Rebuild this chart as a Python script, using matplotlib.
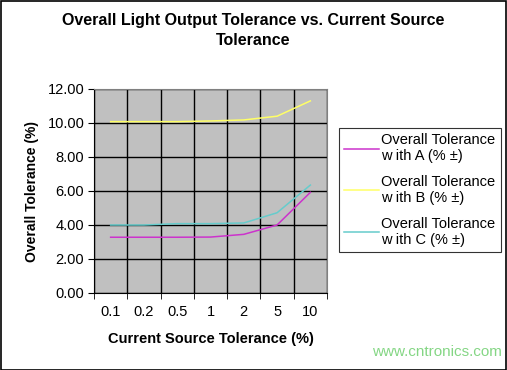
import numpy as np
import matplotlib.pyplot as plt
from matplotlib.patches import Rectangle

plt.rcParams['font.family'] = ['Liberation Sans', 'DejaVu Sans']

# ── Data ───────────────────────────────────────────────────────────────────────
categories = ["0.1", "0.2", "0.5", "1", "2", "5", "10"]
tol_a = [3.28, 3.28, 3.28, 3.29, 3.45, 4.00, 5.92]
tol_b = [10.08, 10.08, 10.08, 10.12, 10.18, 10.40, 11.30]
tol_c = [4.00, 4.00, 4.08, 4.08, 4.12, 4.72, 6.35]
labels = ["Overall Tolerance\nw ith A (% ±)",
          "Overall Tolerance\nw ith B (% ±)",
          "Overall Tolerance\nw ith C (% ±)"]
colors = ["#CC33CC", "#FFFF66", "#66CCCC"]

W, H = 507, 370
fig = plt.figure(figsize=(W / 100, H / 100), dpi=100)
fig.patch.set_facecolor('white')

# outer border
fig.add_artist(Rectangle((0.5 / W, 0.5 / H), 1 - 1.5 / W, 1 - 1.5 / H,
                         transform=fig.transFigure, fill=False,
                         edgecolor='black', lw=1.2))

ax = fig.add_axes([94 / W, (H - 293) / H, (327 - 94) / W, (293 - 89) / H])
ax.set_facecolor('#C0C0C0')

x = np.arange(len(categories))
for vals, lab, c in zip([tol_a, tol_b, tol_c], labels, colors):
    ax.plot(x, vals, color=c, lw=1.1, label=lab)

ax.set_xlim(-0.5, len(categories) - 0.5)
ax.set_ylim(0, 12)
ax.set_yticks(np.arange(0, 12.01, 2))
ax.set_yticklabels([f"{v:.2f}" for v in np.arange(0, 12.01, 2)], fontsize=10.5)
ax.set_xticks(x)
ax.set_xticklabels(categories, fontsize=10.5)
ax.set_xticks(np.arange(-0.5, len(categories)), minor=True)
ax.tick_params(axis='x', which='major', length=0, pad=9)
ax.tick_params(axis='x', which='minor', length=4, direction='out')
ax.tick_params(axis='y', length=4, direction='out', pad=3)
ax.grid(True, which='minor', axis='x', color='black', lw=1)
ax.grid(True, which='major', axis='y', color='black', lw=1)
ax.set_axisbelow(True)
for s in ax.spines.values():
    s.set_color('black')
    s.set_linewidth(0.8)
ax.spines['right'].set_color('#808080')
ax.spines['top'].set_color('#808080')

ax.set_xlabel("Current Source Tolerance (%)", fontsize=10.5, fontweight='bold', labelpad=9)
ax.set_ylabel("Overall Tolerance (%)", fontsize=10, fontweight='bold', labelpad=6)

fig.suptitle("Overall Light Output Tolerance vs. Current Source\nTolerance",
             fontsize=11.5, fontweight='bold', y=0.965, linespacing=1.45)

leg = fig.legend(loc='upper left', bbox_to_anchor=(339 / W, 1 - 128 / H),
                 fontsize=10.5, frameon=True, fancybox=False, handlelength=2.4,
                 handletextpad=0.15, labelspacing=0.8, borderpad=0.35,
                 borderaxespad=0)
leg.get_frame().set_edgecolor('black')
leg.get_frame().set_linewidth(0.8)

fig.text(0.99, 0.03, "www.cntronics.com", color='#66CC66', fontsize=11,
         ha='right', va='bottom', alpha=0.8)

fig.savefig('out.png', dpi=100)
